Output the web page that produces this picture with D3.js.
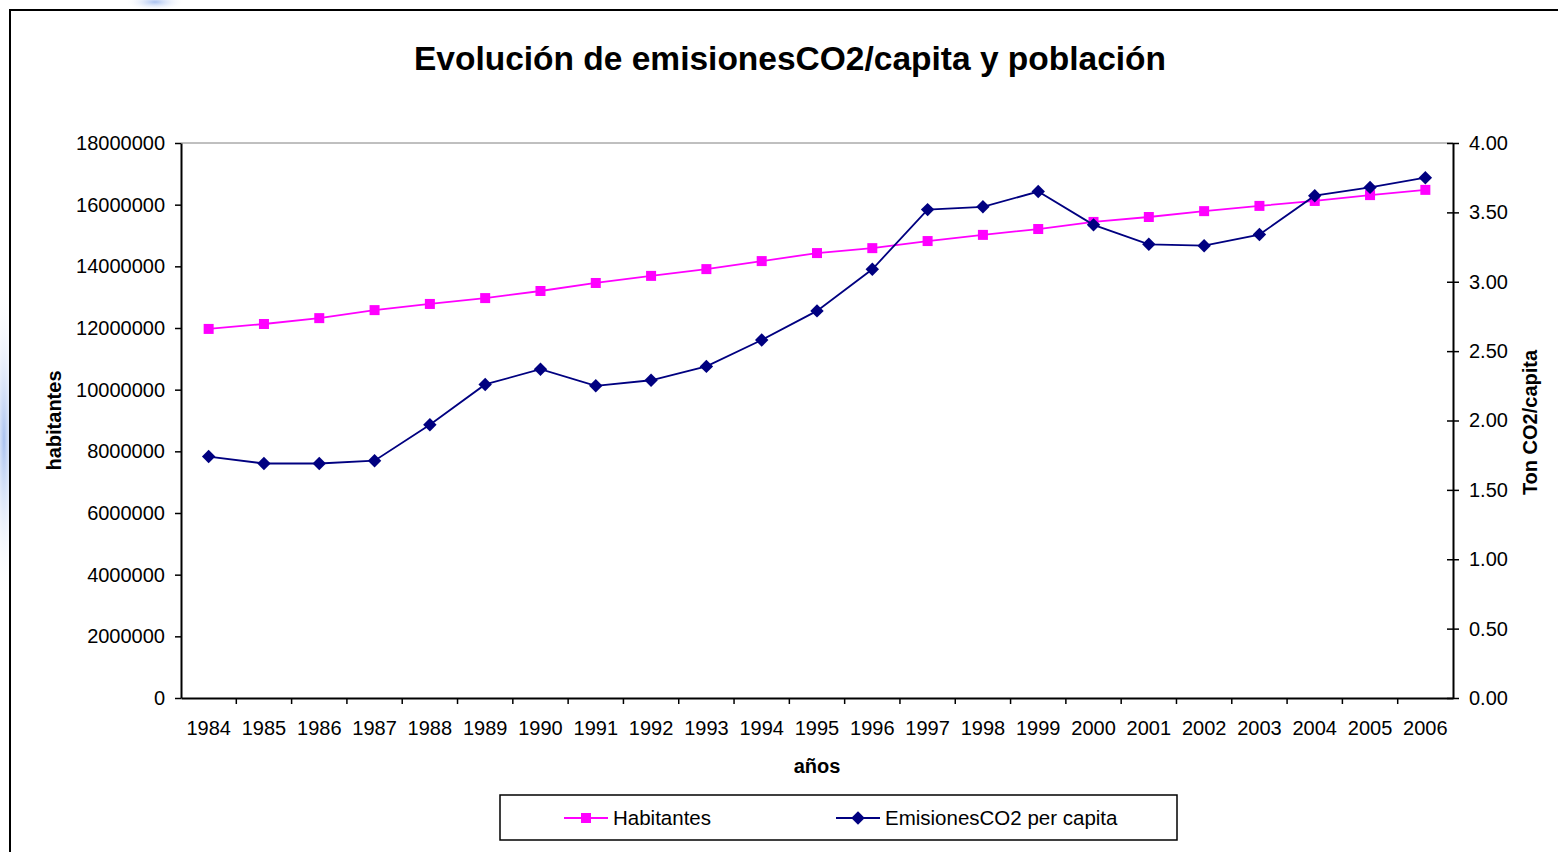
<!DOCTYPE html>
<html>
<head>
<meta charset="utf-8">
<script src="https://cdn.jsdelivr.net/npm/d3@7"></script>
<style>
  body { margin: 0; background: #fff; }
  svg text { font-family: "Liberation Sans", Arial, sans-serif; }
</style>
</head>
<body>
<div id="chart"></div>
<script>
const years = ["1984","1985","1986","1987","1988","1989","1990","1991","1992","1993","1994","1995",
    "1996","1997","1998","1999","2000","2001","2002","2003","2004","2005","2006"]

const habitantes = [11970000, 12130000, 12320000, 12580000, 12780000, 12970000, 13200000, 13460000,
    13690000, 13910000, 14170000, 14430000, 14590000, 14820000, 15020000, 15210000, 15440000,
    15600000, 15790000, 15960000, 16120000, 16310000, 16480000]

const emisiones = [1.74, 1.69, 1.69, 1.71, 1.97, 2.26, 2.37, 2.25, 2.29, 2.39, 2.58, 2.79,
    3.09, 3.52, 3.54, 3.65, 3.41, 3.27, 3.26, 3.34, 3.62, 3.68, 3.75]

const leftTicks = d3.range(0, 18000001, 2000000)
const rightTicks = d3.range(0, 4.001, 0.5)

const width = 1558
const height = 852
const plot = {left: 181, right: 1453, top: 143, bottom: 698}

const svg = d3.select("#chart").append("svg")
    .attr("width", width)
    .attr("height", height)

// faint blue smudges peeking out behind the frame
const defs = svg.append("defs")
const grad = defs.append("radialGradient").attr("id", "blob")
grad.append("stop").attr("offset", 0).attr("stop-color", "#a9c1f0")
grad.append("stop").attr("offset", 1).attr("stop-color", "#ffffff").attr("stop-opacity", 0)
svg.append("ellipse").attr("cx", 4).attr("cy", 440).attr("rx", 14).attr("ry", 160)
    .attr("fill", "url(#blob)")
svg.append("ellipse").attr("cx", 155).attr("cy", 2).attr("rx", 30).attr("ry", 9)
    .attr("fill", "url(#blob)")

svg.append("rect")
    .attr("x", 10).attr("y", 10)
    .attr("width", 1700).attr("height", 1000)
    .attr("fill", "#fff")
    .attr("stroke", "#000").attr("stroke-width", 2)

svg.append("text")
    .attr("x", 790).attr("y", 70)
    .attr("text-anchor", "middle")
    .attr("font-size", 33.5).attr("font-weight", "bold")
    .text("Evolución de emisionesCO2/capita y población")

const x = d3.scaleBand().domain(years).range([plot.left, plot.right])
const yL = d3.scaleLinear().domain([0, 18000000]).range([plot.bottom, plot.top])
const yR = d3.scaleLinear().domain([0, 4]).range([plot.bottom, plot.top])

// plot area outline (grey top edge)
svg.append("line")
    .attr("x1", plot.left).attr("x2", plot.right)
    .attr("y1", plot.top).attr("y2", plot.top)
    .attr("stroke", "#808080").attr("stroke-width", 1)

const gx = svg.append("g")
    .attr("transform", `translate(0,${plot.bottom})`)
    .call(d3.axisBottom(x).tickSize(0).tickPadding(23))
gx.select(".domain").attr("stroke-width", 2)
gx.selectAll("text").attr("font-size", 20).attr("fill", "#000")
// category ticks sit on band boundaries
gx.selectAll(".bnd").data(years.slice(1))
    .join("line").attr("class", "bnd")
    .attr("x1", d => x(d)).attr("x2", d => x(d))
    .attr("y1", 0).attr("y2", 6)
    .attr("stroke", "#000").attr("stroke-width", 1.5)

const gl = svg.append("g")
    .attr("transform", `translate(${plot.left},0)`)
    .call(d3.axisLeft(yL).tickValues(leftTicks).tickFormat(d3.format("d")).tickSize(6).tickSizeOuter(0).tickPadding(10))
gl.select(".domain").attr("stroke-width", 2)
gl.selectAll(".tick line").attr("stroke-width", 1.5)
gl.selectAll("text").attr("font-size", 20).attr("fill", "#000")

const gr = svg.append("g")
    .attr("transform", `translate(${plot.right},0)`)
    .call(d3.axisRight(yR).tickValues(rightTicks).tickFormat(d3.format(".2f")).tickSizeOuter(0).tickPadding(10))
gr.select(".domain").attr("stroke-width", 2)
gr.selectAll(".tick line").attr("x1", -6).attr("x2", 6).attr("stroke-width", 1.5)
gr.selectAll("text").attr("font-size", 20).attr("fill", "#000")

svg.append("text")
    .attr("transform", `translate(61,${(plot.top + plot.bottom) / 2}) rotate(-90)`)
    .attr("text-anchor", "middle")
    .attr("font-size", 20).attr("font-weight", "bold")
    .text("habitantes")

svg.append("text")
    .attr("transform", `translate(1537,${(plot.top + plot.bottom) / 2 + 2}) rotate(-90)`)
    .attr("text-anchor", "middle")
    .attr("font-size", 20).attr("font-weight", "bold")
    .text("Ton CO2/capita")

svg.append("text")
    .attr("x", (plot.left + plot.right) / 2).attr("y", 773)
    .attr("text-anchor", "middle")
    .attr("font-size", 20).attr("font-weight", "bold")
    .text("años")

const cx = d => x(d) + x.bandwidth() / 2

const habData = years.map((d, i) => ({year: d, v: habitantes[i]}))
const emiData = years.map((d, i) => ({year: d, v: emisiones[i]}))

svg.append("path")
    .datum(habData)
    .attr("fill", "none").attr("stroke", "#ff00ff").attr("stroke-width", 1.8)
    .attr("d", d3.line().x(d => cx(d.year)).y(d => yL(d.v)))

svg.append("g").selectAll("rect").data(habData)
    .join("rect")
    .attr("x", d => cx(d.year) - 5).attr("y", d => yL(d.v) - 5)
    .attr("width", 10).attr("height", 10)
    .attr("fill", "#ff00ff")

svg.append("path")
    .datum(emiData)
    .attr("fill", "none").attr("stroke", "#000080").attr("stroke-width", 1.8)
    .attr("d", d3.line().x(d => cx(d.year)).y(d => yR(d.v)))

const diamond = d3.symbol().type(d3.symbolDiamond2).size(115)
svg.append("g").selectAll("path").data(emiData)
    .join("path")
    .attr("transform", d => `translate(${cx(d.year)},${yR(d.v)})`)
    .attr("d", diamond)
    .attr("fill", "#000080")

// legend
const legend = svg.append("g").attr("transform", "translate(500,795)")
legend.append("rect")
    .attr("width", 677).attr("height", 45)
    .attr("fill", "#fff").attr("stroke", "#000").attr("stroke-width", 1.5)

const items = [
    {name: "Habitantes", color: "#ff00ff", mark: "square", x: 64},
    {name: "EmisionesCO2 per capita", color: "#000080", mark: "diamond", x: 336},
]
items.forEach(it => {
    const g = legend.append("g").attr("transform", `translate(${it.x},23)`)
    g.append("line").attr("x1", 0).attr("x2", 44).attr("stroke", it.color).attr("stroke-width", 1.8)
    if (it.mark === "square") {
        g.append("rect").attr("x", 17).attr("y", -5).attr("width", 10).attr("height", 10).attr("fill", it.color)
    } else {
        g.append("path").attr("transform", "translate(22,0)").attr("d", diamond).attr("fill", it.color)
    }
    g.append("text").attr("x", 49).attr("y", 7)
        .attr("font-size", 20.5)
        .text(it.name)
})
</script>
</body>
</html>
